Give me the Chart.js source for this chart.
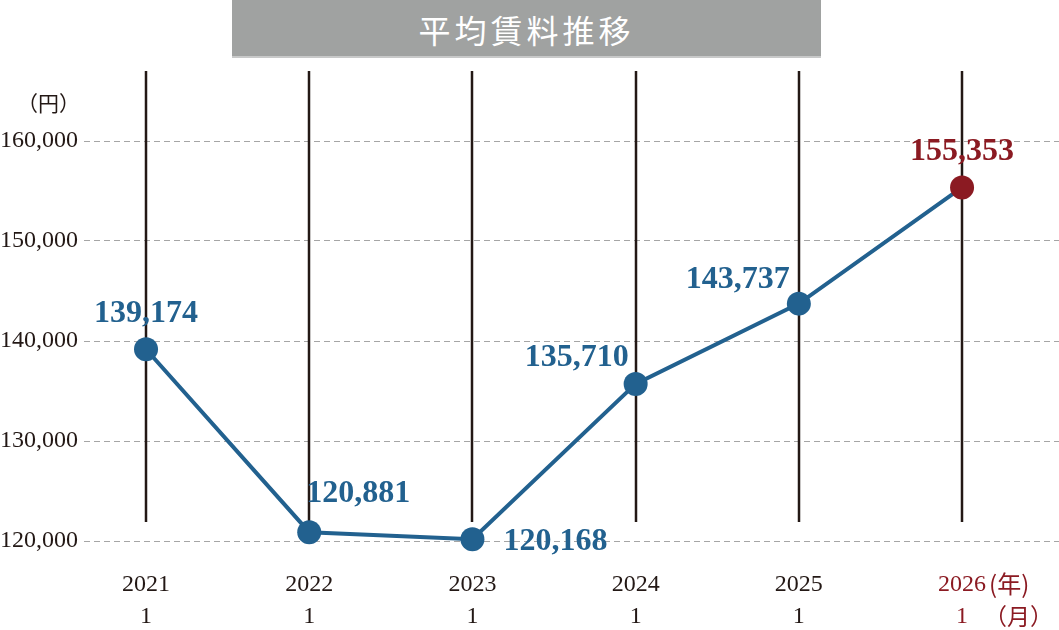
<!DOCTYPE html>
<html>
<head>
<meta charset="utf-8">
<script src="https://cdn.jsdelivr.net/npm/chart.js@4/dist/chart.umd.min.js"></script>
<style>
  html, body { margin: 0; padding: 0; background: #fff; }
  #wrap { position: relative; width: 1059px; height: 630px; }
  #title {
    position: absolute; left: 232px; top: 0; width: 589px; height: 56px;
    background: #a0a2a1; border-bottom: 2px solid #c8c9c9;
    color: #fff; font: 400 32px "Noto Sans CJK JP", sans-serif; letter-spacing: 4px;
    text-align: center; line-height: 58px;
  }
</style>
</head>
<body>
<div id="wrap">
  <canvas id="rentChart" width="1059" height="630"></canvas>
  <div id="title">平均賃料推移</div>
</div>
<script>
// --- data ---
const years = ['2021', '2022', '2023', '2024', '2025', '2026'];
const months = ['1', '1', '1', '1', '1', '1'];
const rent = [139174, 120881, 120168, 135710, 143737, 155353];
const yTicks = [120000, 130000, 140000, 150000, 160000];

// label placement relative to each point (dx, dy)
const lblOff = [[0, -36], [49, -38], [83, 2], [-59, -26], [-61, -24], [0, -36]];

const BLUE = '#22618f', RED = '#8b1a22', INK = '#231815';
const SERIF = '"Liberation Serif", "DejaVu Serif", serif';
const fmt = v => v.toLocaleString('en-US');

const decor = {
    id: 'decor',
    beforeDatasetsDraw(chart) {
        const { ctx, chartArea: a, scales: { x } } = chart;
        ctx.save();
        ctx.strokeStyle = INK; ctx.lineWidth = 2.5;
        years.forEach((_, i) => {
            const px = Math.round(x.getPixelForValue(i));
            ctx.beginPath(); ctx.moveTo(px, a.top); ctx.lineTo(px, a.bottom - 49); ctx.stroke();
        });
        ctx.restore();
    },
    afterDatasetsDraw(chart) {
        const { ctx, chartArea: a, scales: { x, y } } = chart;
        ctx.save();
        // value labels
        ctx.font = 'bold 32px ' + SERIF;
        ctx.textAlign = 'center'; ctx.textBaseline = 'middle';
        rent.forEach((v, i) => {
            ctx.fillStyle = i === rent.length - 1 ? RED : BLUE;
            ctx.fillText(fmt(v), x.getPixelForValue(i) + lblOff[i][0], y.getPixelForValue(v) + lblOff[i][1]);
        });
        // x labels
        ctx.font = '24px ' + SERIF;
        years.forEach((yr, i) => {
            const px = x.getPixelForValue(i);
            const last = i === years.length - 1;
            ctx.fillStyle = last ? RED : INK;
            ctx.textAlign = 'center';
            ctx.fillText(yr, px, a.bottom + 14);
            ctx.fillText(months[i], px, a.bottom + 46);
            if (last) {
                ctx.textAlign = 'left';
                ctx.font = '24px "Noto Sans CJK JP", sans-serif';
                ctx.fillText('(年)', px + 27, a.bottom + 13);
                ctx.font = '23px "Noto Sans CJK JP", sans-serif';
                ctx.fillText('（月）', px + 22, a.bottom + 45);
                ctx.font = '24px ' + SERIF;
            }
        });
        // unit
        ctx.fillStyle = INK; ctx.textAlign = 'right';
        ctx.font = '21px "Noto Sans CJK JP", sans-serif';
        ctx.fillText('（円）', 80, y.getPixelForValue(160000) - 38);
        ctx.restore();
    }
};

new Chart(document.getElementById('rentChart'), {
    type: 'line',
    data: {
        labels: years,
        datasets: [{
            data: rent.map((v, i) => ({ x: i, y: v })),
            borderColor: BLUE, borderWidth: 4, tension: 0,
            pointRadius: 12, pointHoverRadius: 12, pointBorderWidth: 0,
            pointBackgroundColor: rent.map((_, i) => i === rent.length - 1 ? RED : BLUE)
        }]
    },
    options: {
        responsive: false, animation: false,
        layout: { autoPadding: false, padding: { top: 71, bottom: 59, left: 0, right: 0 } },
        plugins: { legend: { display: false }, tooltip: { enabled: false } },
        scales: {
            x: { type: 'linear', min: -0.38, max: 5.594, display: false },
            y: {
                min: 117000, max: 167000,
                afterBuildTicks: s => { s.ticks = yTicks.map(v => ({ value: v })); },
                afterFit: s => { s.width = 84; },
                border: { display: false, dash: [6, 4] },
                grid: { color: '#a5a5a5', lineWidth: 1, drawTicks: false },
                ticks: { color: INK, padding: 6, font: { family: SERIF, size: 24 }, callback: v => fmt(v) }
            }
        }
    },
    plugins: [decor]
});
</script>
</body>
</html>
